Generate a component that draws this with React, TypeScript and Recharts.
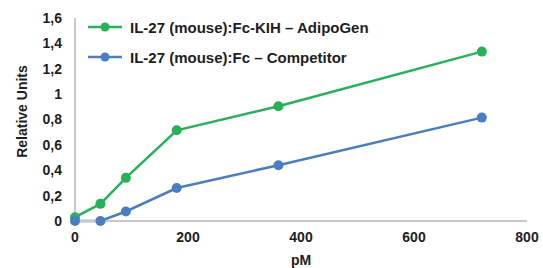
import React from 'react';
import { LineChart, Line, XAxis, YAxis, Label } from 'recharts';

const concentrations = [0, 45, 90, 180, 360, 720];
const adipogenValues = [0.03, 0.135, 0.34, 0.715, 0.905, 1.335];
const competitorValues = [0.0, 0.0, 0.075, 0.26, 0.44, 0.815];
const xTicks = [0, 200, 400, 600, 800];
const yTicks = [0, 0.2, 0.4, 0.6, 0.8, 1, 1.2, 1.4, 1.6];
const seriesNames = ['IL-27 (mouse):Fc-KIH – AdipoGen', 'IL-27 (mouse):Fc – Competitor'];

const GREEN = '#27b15b';
const BLUE = '#4a7ec2';
const TEXT = '#1e1e1e';
const FONT = 'Liberation Sans, Arial, sans-serif';

const data = concentrations.map((c, i) => ({
  pm: c,
  adipogen: adipogenValues[i],
  competitor: competitorValues[i],
}));

const legendItems = [
  { name: seriesNames[0], color: GREEN },
  { name: seriesNames[1], color: BLUE },
];

const LegendBox = () => (
  <div style={{ position: 'absolute', left: 88, top: 12, fontFamily: FONT, fontWeight: 'bold', fontSize: 15, color: TEXT }}>
    {legendItems.map((it, i) => (
      <div key={i} style={{ display: 'flex', alignItems: 'center', height: 30 }}>
        <svg width={42} height={12} style={{ display: 'block' }}>
          <line x1={0} y1={6} x2={34} y2={6} stroke={it.color} strokeWidth={2.5} />
          <circle cx={17} cy={6} r={4.5} fill={it.color} />
        </svg>
        <span>{it.name}</span>
      </div>
    ))}
  </div>
);

const YTitle = (props: any) => {
  const vb = props.viewBox || { x: 35, y: 18, width: 40, height: 203 };
  const cx = vb.x - 13;
  const cy = vb.y + vb.height / 2 - 8;
  return (
    <text
      x={cx}
      y={cy}
      transform={`rotate(-90 ${cx} ${cy})`}
      textAnchor="middle"
      dominantBaseline="central"
      style={{ fill: TEXT, fontSize: 14, fontWeight: 'bold', fontFamily: FONT }}
    >
      Relative Units
    </text>
  );
};

export default function App() {
  return (
    <div style={{ position: 'absolute', left: 0, top: 0, width: 543, height: 268, background: '#fff' }}>
      <LineChart width={543} height={268} data={data} margin={{ top: 18, right: 16, bottom: 17, left: 35 }}>
        <XAxis
          dataKey="pm"
          type="number"
          domain={[0, 800]}
          ticks={xTicks}
          height={30}
          tickLine={false}
          tickSize={0}
          tickMargin={11}
          axisLine={{ stroke: '#c8c8c8', strokeWidth: 2 }}
          tick={{ fill: TEXT, fontSize: 14, fontWeight: 'bold', fontFamily: FONT }}
        >
          <Label value="pM" position="bottom" offset={4} style={{ fill: TEXT, fontSize: 14, fontWeight: 'bold', fontFamily: FONT }} />
        </XAxis>
        <YAxis
          type="number"
          domain={[0, 1.6]}
          ticks={yTicks}
          width={40}
          tickLine={false}
          tickSize={0}
          tickMargin={13}
          axisLine={{ stroke: '#c8c8c8', strokeWidth: 2 }}
          tickFormatter={(v: number) => String(Math.round(v * 10) / 10).replace('.', ',')}
          tick={{ fill: TEXT, fontSize: 14, fontWeight: 'bold', fontFamily: FONT }}
        >
          <Label content={<YTitle />} />
        </YAxis>
        <Line
          dataKey="adipogen"
          name={seriesNames[0]}
          stroke={GREEN}
          strokeWidth={2.5}
          dot={{ r: 5, fill: GREEN, stroke: GREEN, strokeWidth: 0 }}
          isAnimationActive={false}
        />
        <Line
          dataKey="competitor"
          name={seriesNames[1]}
          stroke={BLUE}
          strokeWidth={2.5}
          dot={{ r: 5, fill: BLUE, stroke: BLUE, strokeWidth: 0 }}
          isAnimationActive={false}
        />
      </LineChart>
      <LegendBox />
    </div>
  );
}
